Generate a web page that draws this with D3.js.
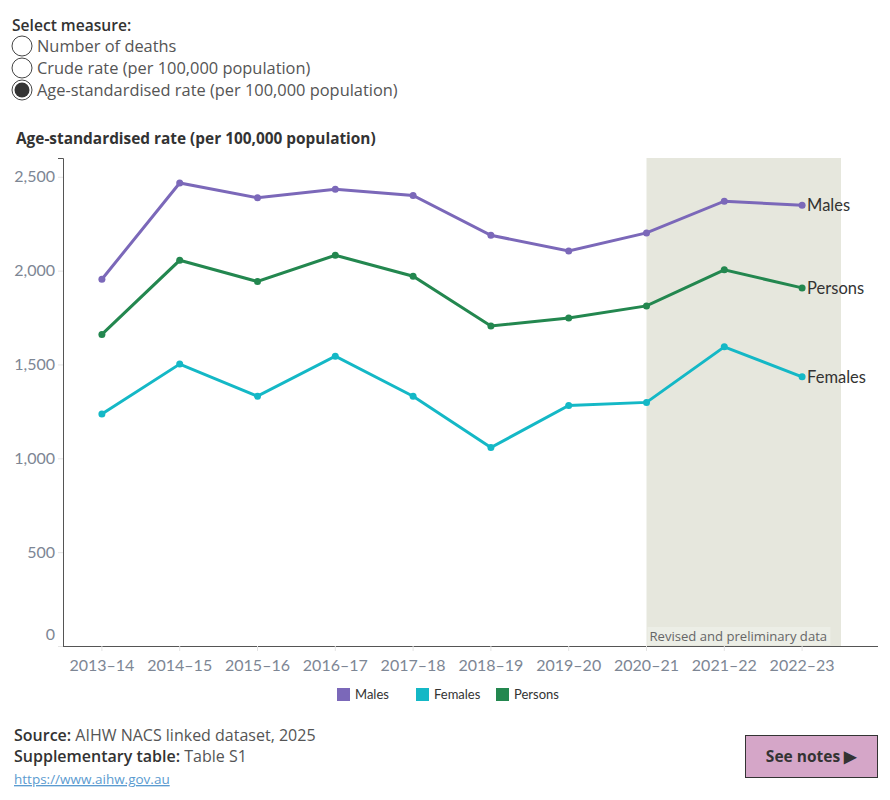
<!DOCTYPE html>
<html>
<head>
<meta charset="utf-8">
<script src="https://cdn.jsdelivr.net/npm/d3@7"></script>
<style>
  body { margin: 0; background: #fff; font-family: "Open Sans", Lato, sans-serif; }
</style>
</head>
<body>
<svg id="chart" width="890" height="800"></svg>
<script>
// data
let years = ["2013–14", "2014–15", "2015–16", "2016–17", "2017–18",
             "2018–19", "2019–20", "2020–21", "2021–22", "2022–23"];
let males   = [1954, 2467, 2388, 2433, 2400, 2188, 2105, 2201, 2370, 2348];
let females = [1236, 1502, 1331, 1544, 1331, 1057, 1282, 1298, 1594, 1434];
let persons = [1660, 2055, 1942, 2082, 1970, 1705, 1748, 1812, 2004, 1908];
let yTicks = [0, 500, 1000, 1500, 2000, 2500];
let seriesNames = ["Males", "Females", "Persons"];
let seriesColors = ["#7b68b9", "#14b8c6", "#23874f"];
let measures = ["Number of deaths", "Crude rate (per 100,000 population)",
                "Age-standardised rate (per 100,000 population)"];
let shadeFrom = "2020–21";

let series = [
    {name: "Males", values: males, color: seriesColors[0]},
    {name: "Females", values: females, color: seriesColors[1]},
    {name: "Persons", values: persons, color: seriesColors[2]}
];

const wide = "'Open Sans', sans-serif";
const narrow = "Lato, sans-serif";

let svg = d3.select("#chart");

// measure selector
svg.append("text")
    .attr("x", 12).attr("y", 31)
    .attr("font-family", wide)
    .attr("font-size", 15.6).attr("font-weight", 600)
    .attr("fill", "#333")
    .text("Select measure:");

measures.forEach((m, i) => {
    let cy = 46 + i * 22;
    svg.append("circle")
        .attr("cx", 22).attr("cy", cy).attr("r", 10)
        .attr("fill", "#fff").attr("stroke", "#444").attr("stroke-width", 1);
    if (i === 2) {
        svg.append("circle")
            .attr("cx", 22).attr("cy", cy).attr("r", 7.5)
            .attr("fill", "#333");
    }
    svg.append("text")
        .attr("x", 37).attr("y", cy + 5.5)
        .attr("font-family", wide)
        .attr("font-size", 16.4).attr("fill", "#555")
        .text(m);
});

// chart title
svg.append("text")
    .attr("x", 16).attr("y", 144)
    .attr("font-family", wide)
    .attr("font-size", 15.4).attr("font-weight", "bold")
    .attr("fill", "#333")
    .text("Age-standardised rate (per 100,000 population)");

// scales
let xScale = d3.scaleBand()
    .domain(years)
    .range([63, 841]);
let xc = d => xScale(d) + xScale.bandwidth() / 2;

let yScale = d3.scaleLinear()
    .domain([0, 2600])
    .range([646, 158]);

// shaded region for revised and preliminary data
svg.append("rect")
    .attr("x", xc(shadeFrom))
    .attr("y", yScale(2600))
    .attr("width", xScale.range()[1] - xc(shadeFrom))
    .attr("height", yScale(0) - yScale(2600))
    .attr("fill", "#e6e7dd");

svg.append("rect")
    .attr("x", xc(shadeFrom) + 1)
    .attr("y", yScale(0) - 19)
    .attr("width", 183)
    .attr("height", 18)
    .attr("fill", "#eceee6");

svg.append("text")
    .attr("x", xc(shadeFrom) + 3)
    .attr("y", yScale(0) - 5)
    .attr("font-family", wide)
    .attr("font-size", 13.1).attr("fill", "#666")
    .text("Revised and preliminary data");

// y axis
let yAxis = d3.axisLeft(yScale)
    .tickValues(yTicks)
    .tickFormat(d3.format(","))
    .tickSize(5)
    .tickPadding(3);
let yAxisGroup = svg.append("g")
    .attr("transform", "translate(63,0)")
    .call(yAxis);
yAxisGroup.select(".domain").attr("stroke", "#555");
yAxisGroup.selectAll(".tick line").attr("stroke", "#e4e4e4");
yAxisGroup.selectAll(".tick text")
    .attr("font-size", 16).attr("fill", "#7d8694")
    .attr("font-family", narrow);
yAxisGroup.selectAll(".tick").filter(d => d === 0)
    .select("text").attr("dy", "-0.4em");

// x axis
let xAxis = d3.axisBottom(xScale)
    .tickSize(5)
    .tickPadding(9);
let xAxisGroup = svg.append("g")
    .attr("transform", `translate(0, ${yScale(0)})`)
    .call(xAxis);
xAxisGroup.select(".domain").attr("d", "M63,0.5H878").attr("stroke", "#555");
xAxisGroup.selectAll(".tick line").attr("stroke", "#e4e4e4");
xAxisGroup.selectAll(".tick text")
    .attr("font-size", 16).attr("fill", "#7d8694")
    .attr("font-family", narrow);

// lines
let line = d3.line()
    .x((d, i) => xc(years[i]))
    .y(d => yScale(d));

series.forEach(s => {
    svg.append("path")
        .datum(s.values)
        .attr("d", line)
        .attr("fill", "none")
        .attr("stroke", s.color)
        .attr("stroke-width", 3);

    svg.selectAll(".dot-" + s.name)
        .data(s.values)
        .enter()
        .append("circle")
        .attr("cx", (d, i) => xc(years[i]))
        .attr("cy", d => yScale(d))
        .attr("r", 3.5)
        .attr("fill", s.color);

    // end label
    let last = s.values[s.values.length - 1];
    svg.append("text")
        .attr("x", xc(years[years.length - 1]) + 5)
        .attr("y", yScale(last) + 6)
        .attr("font-family", narrow)
        .attr("font-size", 16.5).attr("fill", "#333")
        .text(s.name);
});

// legend
let legendX = [337, 416, 496];
seriesNames.forEach((n, i) => {
    svg.append("rect")
        .attr("x", legendX[i]).attr("y", 688)
        .attr("width", 13).attr("height", 13)
        .attr("fill", seriesColors[i]);
    svg.append("text")
        .attr("x", legendX[i] + 18).attr("y", 699)
        .attr("font-family", narrow)
        .attr("font-size", 13).attr("fill", "#333")
        .text(n);
});

// footer
let src = svg.append("text").attr("x", 14).attr("y", 741)
    .attr("font-family", wide)
    .attr("font-size", 16).attr("fill", "#333");
src.append("tspan").attr("font-weight", 600).text("Source: ");
src.append("tspan").attr("fill", "#555").text("AIHW NACS linked dataset, 2025");

let sup = svg.append("text").attr("x", 14).attr("y", 762)
    .attr("font-family", wide)
    .attr("font-size", 16).attr("fill", "#333");
sup.append("tspan").attr("font-weight", 600).text("Supplementary table: ");
sup.append("tspan").attr("fill", "#555").text("Table S1");

svg.append("text")
    .attr("x", 14).attr("y", 784)
    .attr("font-family", wide)
    .attr("font-size", 13.5).attr("fill", "#5b9bd0")
    .attr("text-decoration", "underline")
    .text("https://www.aihw.gov.au");

// button
svg.append("rect")
    .attr("x", 745.5).attr("y", 735.5)
    .attr("width", 132).attr("height", 42)
    .attr("fill", "#d5a6c8").attr("stroke", "#333").attr("stroke-width", 1);
svg.append("text")
    .attr("x", 811).attr("y", 762)
    .attr("text-anchor", "middle")
    .attr("font-family", wide)
    .attr("font-size", 15.5).attr("font-weight", "bold").attr("fill", "#333")
    .text("See notes ▶");
</script>
</body>
</html>
